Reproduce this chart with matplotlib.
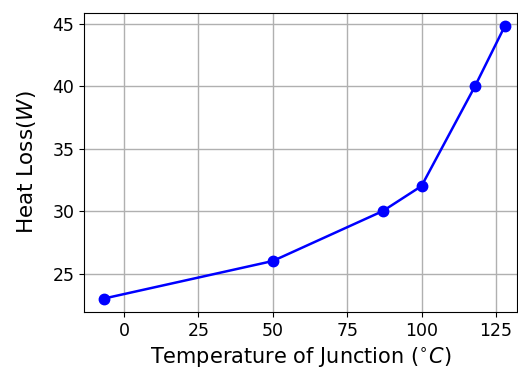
import numpy as np
import matplotlib
matplotlib.use('Agg')
import matplotlib.pyplot as plt

# data
temp_junction = [-6.7, 50, 87, 100, 118, 128]
heat_loss = [23, 26, 30, 32, 40, 44.8]

fig = plt.figure(figsize=(5.18, 3.79), dpi=100)
ax = fig.add_axes([84/518, 1 - 312/379, (517-84)/518, (312-13)/379])

ax.plot(temp_junction, heat_loss, 'b-o', linewidth=1.8, markersize=7.5)
ax.grid(True, color='#b0b0b0', linewidth=1.0)
ax.set_xticks([0, 25, 50, 75, 100, 125])
ax.set_yticks([25, 30, 35, 40, 45])
ax.set_xlim(-13.45, 132.1)
ax.set_ylim(21.92, 45.85)
ax.tick_params(labelsize=12.5)
ax.set_xlabel(r'Temperature of Junction ($^{\circ}C$)', fontsize=15)
ax.set_ylabel(r'Heat Loss($W$)', fontsize=15.5, labelpad=10)

fig.savefig('out.png', dpi=100)
